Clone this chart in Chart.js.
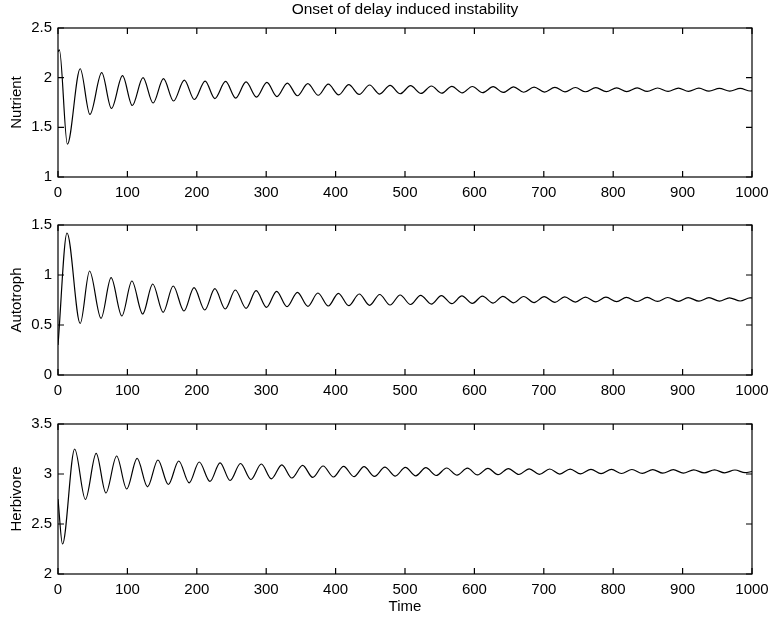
<!DOCTYPE html>
<html>
<head>
<meta charset="utf-8">
<title>Onset of delay induced instability</title>
<script src="https://cdn.jsdelivr.net/npm/chart.js@4.4.1/dist/chart.umd.min.js"></script>
<style>
  html, body { margin: 0; padding: 0; background: #fff; }
  #wrap { position: relative; width: 772px; height: 620px; }
  .panel { position: absolute; left: 0; width: 772px; }
</style>
</head>
<body>
<div id="wrap">
  <div class="panel" style="top:0px;height:200px"><canvas id="nutrientChart" width="772" height="200"></canvas></div>
  <div class="panel" style="top:200px;height:200px"><canvas id="autotrophChart" width="772" height="200"></canvas></div>
  <div class="panel" style="top:400px;height:220px"><canvas id="herbivoreChart" width="772" height="220"></canvas></div>
</div>
<script>
// peaks and troughs (time, value)
const nutrientT = [0, 2, 13.5, 32, 46, 63, 77, 93, 107, 122.5, 137, 152, 166.5, 182, 196.5, 212, 226, 241.5, 256, 271, 286, 301, 315.5, 330.5, 345, 360, 375, 389.5, 404.5, 419, 434, 449, 463.5, 478.5, 493, 508, 523, 538, 553, 567.5, 582.5, 597, 612, 627, 641.5, 656.5, 671, 686, 701, 716, 730.5, 745.5, 760, 775, 790, 805, 819.5, 834.5, 849, 864, 879, 894, 908.5, 923.5, 938, 953, 968, 983, 997.5, 1000];
const nutrientV = [2.26, 2.28, 1.33, 2.09, 1.63, 2.05, 1.69, 2.02, 1.72, 2.0, 1.745, 1.99, 1.765, 1.975, 1.78, 1.966, 1.79, 1.962, 1.795, 1.957, 1.805, 1.953, 1.81, 1.946, 1.818, 1.94, 1.823, 1.934, 1.826, 1.93, 1.831, 1.926, 1.835, 1.922, 1.838, 1.919, 1.841, 1.916, 1.844, 1.913, 1.847, 1.911, 1.849, 1.909, 1.851, 1.907, 1.853, 1.905, 1.855, 1.903, 1.857, 1.901, 1.858, 1.900, 1.859, 1.898, 1.860, 1.897, 1.861, 1.896, 1.862, 1.895, 1.863, 1.894, 1.864, 1.893, 1.865, 1.892, 1.866, 1.867];

const autotrophT = [0, 13, 32, 45.5, 62, 76.5, 92, 106.5, 122, 136.5, 151.5, 166, 181.5, 196, 211.5, 226, 241, 255.5, 271, 285.5, 300.5, 315, 330, 345, 360, 374.5, 389.5, 404, 419, 434, 449, 463.5, 478.5, 493, 508, 522.5, 538, 552.5, 567.5, 582, 597, 611.5, 627, 641, 656.5, 671, 686, 700.5, 716, 730, 745.5, 760, 775, 789.5, 805, 819, 834.5, 849, 864, 878.5, 894, 908, 923.5, 938, 953, 967.5, 983, 997, 1000];
const autotrophV = [0.30, 1.42, 0.515, 1.04, 0.567, 0.973, 0.59, 0.94, 0.61, 0.91, 0.627, 0.89, 0.64, 0.873, 0.65, 0.863, 0.66, 0.85, 0.667, 0.843, 0.677, 0.837, 0.683, 0.827, 0.687, 0.82, 0.69, 0.817, 0.693, 0.81, 0.697, 0.805, 0.70, 0.80, 0.705, 0.797, 0.709, 0.794, 0.713, 0.791, 0.716, 0.789, 0.719, 0.787, 0.722, 0.785, 0.724, 0.783, 0.727, 0.781, 0.729, 0.779, 0.731, 0.778, 0.733, 0.777, 0.735, 0.776, 0.736, 0.775, 0.737, 0.774, 0.738, 0.773, 0.739, 0.772, 0.74, 0.771, 0.77];

const herbivoreT = [0, 6.5, 24, 39.5, 55, 69, 84.5, 99, 114, 129, 144, 159, 174, 189, 203.5, 219, 233.5, 248, 263, 278, 293, 307.5, 322.5, 337, 352.5, 367, 382, 397, 411.5, 426.5, 441, 456, 471, 486, 500.5, 515.5, 530, 545, 560, 575, 590, 604.5, 619.5, 634, 649, 664, 679, 693.5, 708.5, 723, 738, 753, 768, 782.5, 797.5, 812, 827, 842, 857, 871.5, 886.5, 901, 916, 931, 946, 960.5, 975.5, 990, 1000];
const herbivoreV = [2.75, 2.30, 3.25, 2.745, 3.206, 2.81, 3.18, 2.85, 3.156, 2.872, 3.14, 2.895, 3.13, 2.912, 3.12, 2.926, 3.112, 2.935, 3.105, 2.945, 3.10, 2.952, 3.092, 2.96, 3.086, 2.966, 3.08, 2.97, 3.077, 2.973, 3.073, 2.976, 3.068, 2.979, 3.066, 2.982, 3.063, 2.985, 3.06, 2.988, 3.058, 2.991, 3.056, 2.993, 3.054, 2.995, 3.052, 2.997, 3.05, 2.999, 3.049, 3.001, 3.047, 3.003, 3.046, 3.005, 3.045, 3.006, 3.044, 3.008, 3.043, 3.009, 3.042, 3.011, 3.041, 3.012, 3.04, 3.013, 3.025];

// tick labels
const timeTicks = [0, 100, 200, 300, 400, 500, 600, 700, 800, 900, 1000];
const nutrientTicks = [1, 1.5, 2, 2.5];
const autotrophTicks = [0, 0.5, 1, 1.5];
const herbivoreTicks = [2, 2.5, 3, 3.5];

const fontFamily = "'Liberation Sans', Arial, Helvetica, sans-serif";
Chart.defaults.font.family = fontFamily;
Chart.defaults.font.size = 15;
Chart.defaults.color = '#000';

// box round the plot with inward tick marks on all four sides
const frame = {
  id: 'frame',
  afterDraw(chart) {
    const { ctx, chartArea: a, scales: { x, y } } = chart;
    const len = 6;
    ctx.save();
    ctx.strokeStyle = '#000';
    ctx.lineWidth = 1.2;
    ctx.beginPath();
    x.ticks.forEach(t => {
      const px = x.getPixelForValue(t.value);
      ctx.moveTo(px, a.bottom); ctx.lineTo(px, a.bottom - len);
      ctx.moveTo(px, a.top); ctx.lineTo(px, a.top + len);
    });
    y.ticks.forEach(t => {
      const py = y.getPixelForValue(t.value);
      ctx.moveTo(a.left, py); ctx.lineTo(a.left + len, py);
      ctx.moveTo(a.right, py); ctx.lineTo(a.right - len, py);
    });
    ctx.stroke();
    ctx.strokeRect(a.left, a.top, a.right - a.left, a.bottom - a.top);
    // figure title, centred over the plot box
    const text = chart.options.plugins.frame && chart.options.plugins.frame.title;
    if (text) {
      ctx.fillStyle = '#000';
      ctx.font = '15.5px ' + fontFamily;
      ctx.textAlign = 'center';
      ctx.textBaseline = 'middle';
      ctx.fillText(text, (a.left + a.right) / 2, 10);
    }
    ctx.restore();
  }
};

function makePanel(id, times, values, yLabel, yMin, yMax, yTicks, opts) {
  const points = times.map((t, i) => ({ x: t, y: values[i] }));
  return new Chart(document.getElementById(id), {
    type: 'line',
    data: {
      datasets: [{
        data: points,
        borderColor: '#000',
        borderWidth: 1.2,
        pointRadius: 0,
        fill: false,
        cubicInterpolationMode: 'monotone'
      }]
    },
    options: {
      responsive: false,
      animation: false,
      events: [],
      layout: { padding: { top: opts.padTop, right: 20, left: 0, bottom: 0 } },
      plugins: {
        legend: { display: false },
        tooltip: { enabled: false },
        title: { display: false },
        frame: { title: opts.title || '' }
      },
      scales: {
        x: {
          type: 'linear',
          min: 0,
          max: 1000,
          grid: { display: false, drawTicks: false },
          border: { display: false },
          afterBuildTicks: s => { s.ticks = timeTicks.map(v => ({ value: v })); },
          afterFit: s => { s.height = opts.xHeight; s.paddingLeft = 0; s.paddingRight = 0; },
          ticks: { padding: 7, maxRotation: 0, callback: v => String(v) },
          title: opts.xTitle ? {
            display: true,
            text: opts.xTitle,
            padding: { top: 0, bottom: 4.3 }
          } : { display: false }
        },
        y: {
          min: yMin,
          max: yMax,
          grid: { display: false, drawTicks: false },
          border: { display: false },
          afterBuildTicks: s => { s.ticks = yTicks.map(v => ({ value: v })); },
          afterFit: s => { s.width = 58; s.paddingTop = 0; s.paddingBottom = 0; },
          ticks: { padding: 6, callback: v => String(v) },
          title: { display: true, text: yLabel, padding: { top: 7.7, bottom: 0 } }
        }
      }
    },
    plugins: [frame]
  });
}

makePanel('nutrientChart', nutrientT, nutrientV, 'Nutrient', 1, 2.5, nutrientTicks,
  { title: 'Onset of delay induced instability', padTop: 28, xHeight: 23 });
makePanel('autotrophChart', autotrophT, autotrophV, 'Autotroph', 0, 1.5, autotrophTicks,
  { padTop: 25, xHeight: 25 });
makePanel('herbivoreChart', herbivoreT, herbivoreV, 'Herbivore', 2, 3.5, herbivoreTicks,
  { padTop: 24, xHeight: 46, xTitle: 'Time' });
</script>
</body>
</html>
